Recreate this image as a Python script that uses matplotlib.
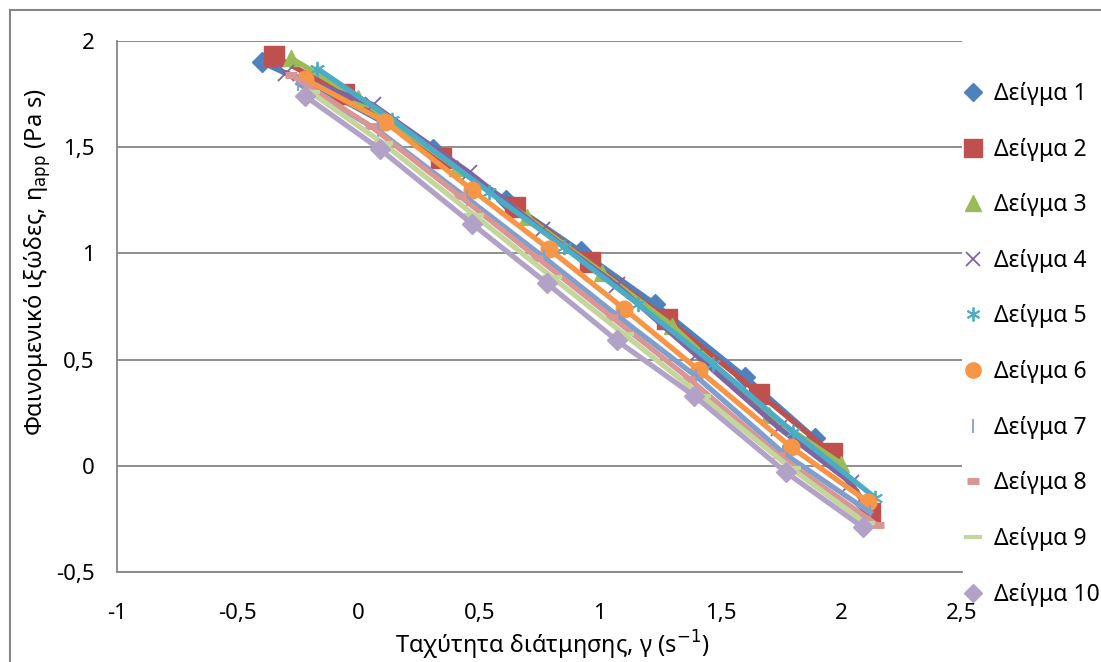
import matplotlib
matplotlib.use("Agg")
import matplotlib.pyplot as plt
from matplotlib.lines import Line2D

plt.rcParams['font.family'] = ['Noto Sans', 'DejaVu Sans']

labels = ['Δείγμα 1', 'Δείγμα 2', 'Δείγμα 3', 'Δείγμα 4', 'Δείγμα 5',
          'Δείγμα 6', 'Δείγμα 7', 'Δείγμα 8', 'Δείγμα 9', 'Δείγμα 10']

x1 = [-0.40, -0.08, 0.31, 0.61, 0.92, 1.23, 1.60, 1.89, 2.10]
y1 = [1.90, 1.73, 1.49, 1.25, 1.01, 0.76, 0.42, 0.13, -0.18]
x2 = [-0.35, -0.06, 0.34, 0.65, 0.96, 1.28, 1.66, 1.96, 2.12]
y2 = [1.93, 1.75, 1.45, 1.22, 0.96, 0.69, 0.34, 0.06, -0.22]
x3 = [-0.28, 0.00, 0.41, 0.70, 1.01, 1.30, 1.70, 2.00]
y3 = [1.92, 1.73, 1.40, 1.17, 0.91, 0.66, 0.24, 0.01]
x4 = [-0.30, 0.06, 0.46, 0.76, 1.07, 1.40, 1.74, 2.04]
y4 = [1.85, 1.70, 1.38, 1.11, 0.85, 0.52, 0.18, -0.08]
x5 = [-0.17, 0.14, 0.54, 0.85, 1.16, 1.47, 1.80, 2.14]
y5 = [1.87, 1.63, 1.29, 1.03, 0.76, 0.48, 0.16, -0.15]
x6 = [-0.22, 0.11, 0.47, 0.79, 1.10, 1.41, 1.79, 2.11]
y6 = [1.82, 1.62, 1.30, 1.02, 0.74, 0.45, 0.09, -0.17]
x7 = [-0.25, 0.08, 0.45, 0.77, 1.08, 1.40, 1.76, 2.12]
y7 = [1.80, 1.58, 1.26, 0.98, 0.70, 0.42, 0.06, -0.22]
x8 = [-0.28, 0.05, 0.42, 0.74, 1.05, 1.37, 1.74, 2.15]
y8 = [1.84, 1.60, 1.27, 0.98, 0.70, 0.41, 0.05, -0.28]
x9 = [-0.20, 0.10, 0.48, 0.80, 1.10, 1.42, 1.79, 2.10]
y9 = [1.76, 1.52, 1.18, 0.89, 0.62, 0.33, -0.01, -0.27]
x10 = [-0.22, 0.09, 0.47, 0.78, 1.07, 1.39, 1.77, 2.09]
y10 = [1.74, 1.49, 1.14, 0.86, 0.59, 0.33, -0.03, -0.29]

xs = [x1, x2, x3, x4, x5, x6, x7, x8, x9, x10]
ys = [y1, y2, y3, y4, y5, y6, y7, y8, y9, y10]

colors = ['#4F81BD', '#C0504D', '#9BBB59', '#8064A2', '#4BACC6',
          '#F79646', '#7F9FCF', '#D99694', '#C3D69B', '#B3A2C7']
markers = ['D', 's', '^', 'x', (6, 2, 0), 'o', '|', '_', '_', 'D']
msizes = [10, 14, 12, 11, 11, 12, 11, 9, 14, 10]
mews = [1, 1, 1, 1.3, 1.3, 1, 1.3, 5, 3, 1]

xticks = [-1, -0.5, 0, 0.5, 1, 1.5, 2, 2.5]
xticklabels = ['-1', '-0,5', '0', '0,5', '1', '1,5', '2', '2,5']
yticks = [-0.5, 0, 0.5, 1, 1.5, 2]
yticklabels = ['-0,5', '0', '0,5', '1', '1,5', '2']

fig = plt.figure(figsize=(11.01, 6.62), dpi=100)
ax = fig.add_axes([117 / 1101, 1 - 572 / 662, (962 - 117) / 1101, (572 - 41) / 662])

handles = []
for i in range(10):
    ax.plot(xs[i], ys[i], color=colors[i], lw=3.8, marker=markers[i], ms=msizes[i],
            mew=mews[i], mfc=colors[i], mec=colors[i], zorder=3 + i)
    handles.append(Line2D([], [], ls='none', marker=markers[i], ms=msizes[i] - 1,
                          mew=mews[i], color=colors[i]))

ax.set_xlim(-1, 2.5)
ax.set_ylim(-0.5, 2)
ax.set_xticks(xticks)
ax.set_xticklabels(xticklabels)
ax.set_yticks(yticks)
ax.set_yticklabels(yticklabels)
ax.tick_params(length=0, labelsize=16, colors='black')
ax.tick_params(axis='x', pad=22)
ax.tick_params(axis='y', pad=16)
ax.grid(axis='y', color='#868686', lw=1.3)
ax.set_axisbelow(True)
for s in ['top', 'right']:
    ax.spines[s].set_visible(False)
for s in ['left', 'bottom']:
    ax.spines[s].set_color('#868686')
    ax.spines[s].set_linewidth(1.3)

fig.text(38 / 1101, 1 - 262 / 662, 'Φαινομενικό ιξώδες, η$_{\\rm app}$ (Pa s)',
         rotation=90, ha='center', va='center', fontsize=17, fontweight='bold')
fig.text(552 / 1101, 1 - 645 / 662, 'Ταχύτητα διάτμησης, γ (s$^{-1}$)',
         ha='center', va='center', fontsize=17)

fig.legend(handles, labels, loc='upper left', bbox_to_anchor=(962 / 1101, 1 - 82 / 662),
           frameon=False, fontsize=16.5, labelspacing=1.38, handlelength=1.0,
           handletextpad=0.4, borderaxespad=0, borderpad=0)

# outer chart frame
fig.add_artist(Line2D([10 / 1101, 10 / 1101], [0, 1 - 10 / 662], color='#868686', lw=1.5))
fig.add_artist(Line2D([10 / 1101, 1], [1 - 10 / 662, 1 - 10 / 662], color='#868686', lw=1.5))

fig.savefig('out.png', dpi=100)
